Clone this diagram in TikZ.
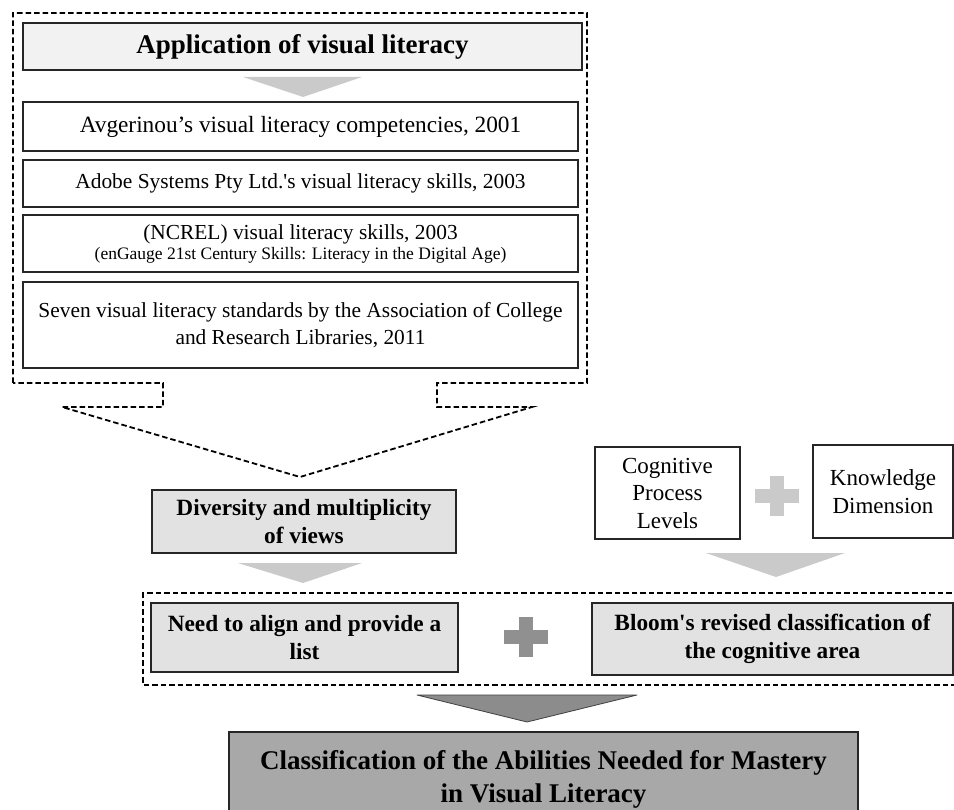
\documentclass[tikz,border=0pt]{standalone}
\usepackage{fontspec}
\setmainfont{Liberation Serif}[Ligatures=TeXOff]
\definecolor{titlefill}{HTML}{F2F2F2}
\definecolor{lightfill}{HTML}{E2E2E2}
\definecolor{finalfill}{HTML}{A8A8A8}
\definecolor{lighttri}{HTML}{CACACA}
\definecolor{darktri}{HTML}{8C8C8C}
\definecolor{darkplus}{HTML}{909090}
\tikzset{
  box/.style={draw=black!85, line width=1.7pt, rectangle, inner sep=0pt, align=center,
    font=\fontsize{21.4}{27}\selectfont},
  titlebox/.style={box, fill=titlefill, font=\bfseries\fontsize{27}{32}\selectfont},
  graybox/.style={box, fill=lightfill, font=\bfseries\fontsize{23.3}{28}\selectfont},
  finalbox/.style={box, fill=finalfill, font=\bfseries\fontsize{27}{33}\selectfont},
  plainbox/.style={box, font=\fontsize{23}{27.5}\selectfont},
  dashedline/.style={draw=black, line width=1.8pt, dash pattern=on 5.5pt off 3pt},
  lightarrow/.style={fill=lighttri},
  darkarrow/.style={fill=darktri, draw=black!75, line width=0.8pt, line join=round},
}
\begin{document}
\begin{tikzpicture}[x=1pt,y=-1pt]
\clip (0,0) rectangle (954,810);
\fill[white] (0,0) rectangle (954,810);

% top dashed frame with arrow
\draw[dashedline] (13,383) -- (13,13) -- (587,13) -- (587,383) -- (437,383) -- (437,407)
  -- (532,407) -- (300,477) -- (62,407) -- (163,407) -- (163,383) -- cycle;

\node[titlebox, minimum width=559pt, minimum height=47pt] (title) at (302.5,46.5)
  {Application of visual literacy};
\fill[lightarrow] (243,77) -- (362,77) -- (303,97) -- cycle;

\node[box, minimum width=555pt, minimum height=49pt, font=\fontsize{23.3}{27}\selectfont] (b1) at (300.5,126.5)
  {Avgerinou’s visual literacy competencies, 2001};
\node[box, minimum width=555pt, minimum height=47pt] (b2) at (300.5,183.5)
  {Adobe Systems Pty Ltd.'s visual literacy skills, 2003};
\node[box, minimum width=555pt, minimum height=57pt] (b3) at (300.5,243.5)
  {(NCREL) visual literacy skills, 2003\\[-7pt]
   {\fontsize{17.5}{20}\selectfont (enGauge 21st Century Skills: Literacy in the Digital Age)}};
\node[box, minimum width=555pt, minimum height=86pt] (b4) at (300.5,325)
  {Seven visual literacy standards by the Association of College\\and Research Libraries, 2011};

% middle row
\node[graybox, minimum width=304pt, minimum height=63pt] (div) at (304,521.5)
  {Diversity and multiplicity\\of views};
\fill[lightarrow] (238,563) -- (362,563) -- (303,583) -- cycle;

\node[plainbox, minimum width=145pt, minimum height=92pt] (cog) at (667.5,493)
  {Cognitive\\Process\\Levels};
\node[plainbox, minimum width=140pt, minimum height=93pt] (know) at (883,491.5)
  {Knowledge\\Dimension};
\fill[lighttri] (755,489) rectangle (799,503);
\fill[lighttri] (770,476) rectangle (784,516);
\fill[lightarrow] (706,553) -- (845,553) -- (776,577) -- cycle;

% lower dashed group
\draw[dashedline] (960,593) -- (143,593) -- (143,685) -- (960,685);
\node[graybox, minimum width=307pt, minimum height=69pt] (need) at (304.5,637.5)
  {Need to align and provide a\\list};
\fill[darkplus] (504,630) rectangle (548,644);
\fill[darkplus] (519,617) rectangle (533,657);
\node[graybox, minimum width=361pt, minimum height=72pt] (bloom) at (772.5,639)
  {Bloom's revised classification of\\the cognitive area};

\draw[darkarrow] (417,695) -- (637,695) -- (527,722) -- cycle;

\node[finalbox, minimum width=629pt, minimum height=94pt] (final) at (543.5,779)
  {Classification of the Abilities Needed for Mastery\\in Visual Literacy};
\end{tikzpicture}
\end{document}
